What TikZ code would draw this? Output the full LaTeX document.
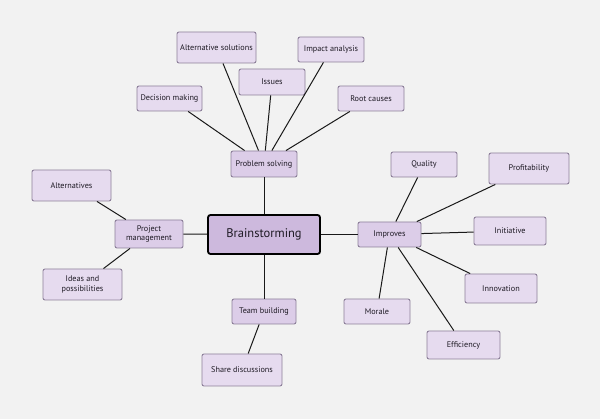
\documentclass[tikz,border=0pt]{standalone}
\usepackage{fontspec}
\setmainfont{PT Sans}
\definecolor{bgc}{HTML}{F2F2F2}
\definecolor{leaffill}{HTML}{E6DBEF}
\definecolor{midfill}{HTML}{DCCDE8}
\definecolor{hubfill}{HTML}{CDB9DD}
\definecolor{bordc}{HTML}{8C7F99}
\definecolor{txtc}{HTML}{1E1A24}
\begin{document}
\begin{tikzpicture}[x=1pt,y=-1pt,
  box/.style={draw=bordc, line width=0.9pt, rounded corners=2pt, inner sep=0pt, align=center,
    text=txtc, font=\fontsize{8.2}{9.8}\selectfont},
  leaf/.style={box, fill=leaffill},
  mid/.style={box, fill=midfill},
  hub/.style={draw=black, line width=1.8pt, rounded corners=2.5pt, fill=hubfill, inner sep=0pt,
    text=txtc, font=\fontsize{12.5}{14}\selectfont},
  link/.style={draw=black!90, line width=1pt}]
\fill[bgc] (0,0) rectangle (600,419);
\useasboundingbox (0,0) rectangle (600,419);
% hub
\node[hub, minimum width=112pt, minimum height=39pt] (brain) at (264,234.5) {Brainstorming};
% problem solving branch
\node[mid, minimum width=66pt, minimum height=26pt] (ps) at (264,164) {Problem solving};
\node[leaf, minimum width=79pt, minimum height=31pt] (alts) at (216.5,47.5) {Alternative solutions};
\node[leaf, minimum width=66pt, minimum height=25pt] (impact) at (331,49.5) {Impact analysis};
\node[leaf, minimum width=66pt, minimum height=26pt] (issues) at (272,82) {Issues};
\node[leaf, minimum width=65pt, minimum height=25pt] (decision) at (169.5,98.5) {Decision making};
\node[leaf, minimum width=66pt, minimum height=25pt] (root) at (371,98.5) {Root causes};
% project management branch
\node[mid, minimum width=68pt, minimum height=28pt] (pm) at (149,234) {Project\\management};
\node[leaf, minimum width=79pt, minimum height=31pt] (alternatives) at (71.5,185.5) {Alternatives};
\node[leaf, minimum width=79pt, minimum height=31pt] (ideas) at (82.5,284.5) {Ideas and\\possibilities};
% improves branch
\node[mid, minimum width=63pt, minimum height=25pt] (improves) at (389.5,234.5) {Improves};
\node[leaf, minimum width=66pt, minimum height=25pt] (quality) at (424,164.5) {Quality};
\node[leaf, minimum width=80pt, minimum height=31pt] (profit) at (529,168.5) {Profitability};
\node[leaf, minimum width=72pt, minimum height=28pt] (initiative) at (510,231) {Initiative};
\node[leaf, minimum width=72pt, minimum height=29pt] (innovation) at (501,288.5) {Innovation};
\node[leaf, minimum width=66pt, minimum height=25pt] (morale) at (377,311.5) {Morale};
\node[leaf, minimum width=73pt, minimum height=28pt] (efficiency) at (463.5,345) {Efficiency};
% team building branch
\node[mid, minimum width=64pt, minimum height=25pt] (tb) at (264,311.5) {Team building};
\node[leaf, minimum width=80pt, minimum height=32pt] (share) at (242,370) {Share discussions};
% connectors
\draw[link] (brain) -- (ps);
\draw[link] (brain) -- (pm);
\draw[link] (brain) -- (improves);
\draw[link] (brain) -- (tb);
\draw[link] (ps) -- (alts);
\draw[link] (ps) -- (impact);
\draw[link] (ps) -- (issues);
\draw[link] (ps) -- (decision);
\draw[link] (ps) -- (root);
\draw[link] (pm) -- (alternatives);
\draw[link] (pm) -- (ideas);
\draw[link] (improves) -- (quality);
\draw[link] (improves) -- (profit);
\draw[link] (improves) -- (initiative);
\draw[link] (improves) -- (innovation);
\draw[link] (improves) -- (morale);
\draw[link] (improves) -- (efficiency);
\draw[link] (tb) -- (share);
\end{tikzpicture}
\end{document}
